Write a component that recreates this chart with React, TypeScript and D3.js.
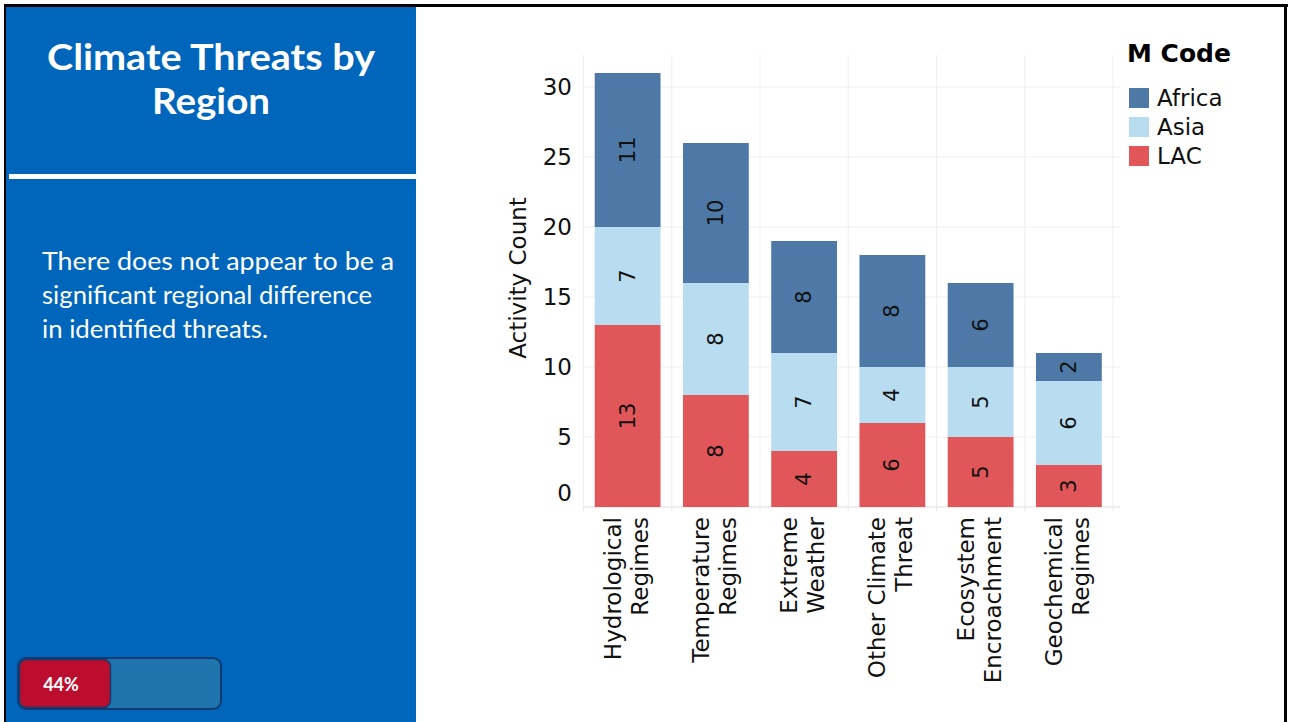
import React from "react";
import * as d3 from "d3";

const categories = [
  ["Hydrological", "Regimes"],
  ["Temperature", "Regimes"],
  ["Extreme", "Weather"],
  ["Other Climate", "Threat"],
  ["Ecosystem", "Encroachment"],
  ["Geochemical", "Regimes"],
];
const seriesNames = ["LAC", "Asia", "Africa"];
const lacValues = [13, 8, 4, 6, 5, 3];
const asiaValues = [7, 8, 7, 4, 5, 6];
const africaValues = [11, 10, 8, 8, 6, 2];
const yTicks = [0, 5, 10, 15, 20, 25, 30];
const legendOrder = ["Africa", "Asia", "LAC"];
const colors: Record<string, string> = {
  Africa: "#4e79a7",
  Asia: "#b8ddf0",
  LAC: "#e15759",
};
const bodyLines = [
  "There does not appear to be a",
  "significant regional difference",
  "in identified threats.",
];
const bodyLengths = [352, 330, 226];

const W = 1292;
const H = 722;
const FONT = "'DejaVu Sans', sans-serif";
const SANS = "Lato, 'Open Sans', sans-serif";

export default function App() {
  const keys = categories.map((c) => c.join(" "));
  const rows = keys.map((k, i) => ({
    key: k,
    LAC: lacValues[i],
    Asia: asiaValues[i],
    Africa: africaValues[i],
  }));
  const stack = d3.stack<any>().keys(seriesNames)(rows);

  const x = d3
    .scaleBand<string>()
    .domain(keys)
    .range([583.5, 1113])
    .paddingInner(0.254)
    .paddingOuter(0.127);
  const y = d3.scaleLinear().domain([0, 31]).range([507, 73]);
  const plotLeft = 583.5;
  const plotRight = 1120;
  const plotTop = 55;
  const plotBottom = 507;
  const step = x.step();
  const boundaries = keys.map((k) => (x(k) as number) - (step - x.bandwidth()) / 2);
  boundaries.push(boundaries[boundaries.length - 1] + step);

  return (
    <svg
      width={W}
      height={H}
      style={{ position: "fixed", left: 0, top: 0, background: "#fff" }}
    >
      {/* left panel */}
      <rect x={6} y={7} width={410} height={H - 7} fill="#0066bb" />
      <rect x={9} y={174} width={407} height={5} fill="#fff" />
      <text
        x={47}
        y={70}
        fill="#fff"
        fontFamily={SANS}
        fontWeight={700}
        fontSize={36}
        textLength={328}
        lengthAdjust="spacingAndGlyphs"
      >
        Climate Threats by
      </text>
      <text
        x={152}
        y={114}
        fill="#fff"
        fontFamily={SANS}
        fontWeight={700}
        fontSize={36}
        textLength={118}
        lengthAdjust="spacingAndGlyphs"
      >
        Region
      </text>
      {bodyLines.map((t, i) => (
        <text
          key={i}
          x={42}
          y={270 + i * 34}
          fill="#fff"
          fontFamily={SANS}
          fontSize={25}
          textLength={bodyLengths[i]}
          lengthAdjust="spacingAndGlyphs"
        >
          {t}
        </text>
      ))}
      {/* progress bar */}
      <rect
        x={18}
        y={658}
        width={203}
        height={51}
        rx={8}
        fill="#1f74ad"
        stroke="#143a72"
        strokeWidth={2}
      />
      <rect
        x={19.5}
        y={659.5}
        width={91}
        height={48}
        rx={7}
        fill="#bb0e2f"
        stroke="#143a72"
        strokeWidth={1.5}
      />
      <text
        x={61}
        y={691}
        textAnchor="middle"
        fill="#fff"
        fontFamily={SANS}
        fontWeight={700}
        fontSize={18}
      >
        44%
      </text>

      {/* frame */}
      <rect x={4} y={4} width={2} height={H} fill="#000" />
      <rect x={4} y={4} width={1284} height={3} fill="#000" />
      <rect x={1284} y={4} width={3} height={H} fill="#000" />

      {/* grid */}
      <g stroke="#efefef" strokeWidth={1}>
        {yTicks.map((t) => (
          <line key={t} x1={plotLeft} x2={plotRight} y1={y(t)} y2={y(t)} />
        ))}
        {boundaries.map((b, i) => (
          <line key={i} x1={b} x2={b} y1={plotTop} y2={plotBottom} />
        ))}
      </g>
      <line
        x1={plotLeft}
        x2={plotRight}
        y1={plotBottom}
        y2={plotBottom}
        stroke="#e6e6e6"
      />
      <g stroke="#e6e6e6">
        {boundaries.map((b, i) => (
          <line key={i} x1={b} x2={b} y1={plotBottom} y2={plotBottom + 4} />
        ))}
      </g>

      {/* bars */}
      {stack.map((s) => (
        <g key={s.key} fill={colors[s.key]}>
          {s.map((d, i) => (
            <rect
              key={i}
              x={x(keys[i])}
              y={y(d[1])}
              width={x.bandwidth()}
              height={y(d[0]) - y(d[1])}
            />
          ))}
        </g>
      ))}
      {stack.map((s) => (
        <g key={"l" + s.key}>
          {s.map((d, i) => {
            const cx = (x(keys[i]) as number) + x.bandwidth() / 2;
            const cy = (y(d[0]) + y(d[1])) / 2;
            return (
              <text
                key={i}
                transform={`translate(${cx},${cy}) rotate(-90)`}
                textAnchor="middle"
                dominantBaseline="central"
                fontFamily={FONT}
                fontSize={21}
                fill="#111"
              >
                {d[1] - d[0]}
              </text>
            );
          })}
        </g>
      ))}

      {/* y axis */}
      {yTicks.map((t) => (
        <text
          key={t}
          x={572}
          y={t === 0 ? y(t) - 14 : y(t)}
          textAnchor="end"
          dominantBaseline="central"
          fontFamily={FONT}
          fontSize={23}
          fill="#111"
        >
          {t}
        </text>
      ))}
      <text
        transform={`translate(518,278) rotate(-90)`}
        textAnchor="middle"
        dominantBaseline="central"
        fontFamily={FONT}
        fontSize={23}
        fill="#111"
      >
        Activity Count
      </text>

      {/* x axis labels */}
      {categories.map((c, i) => {
        const cx = (x(keys[i]) as number) + x.bandwidth() / 2;
        return (
          <g key={i}>
            {c.map((line, j) => (
              <text
                key={j}
                transform={`translate(${cx + (j === 0 ? -15 : 12)},517) rotate(-90)`}
                textAnchor="end"
                dominantBaseline="central"
                fontFamily={FONT}
                fontSize={23}
                fill="#111"
              >
                {line}
              </text>
            ))}
          </g>
        );
      })}

      {/* legend */}
      <text
        x={1127}
        y={62}
        fontFamily={FONT}
        fontWeight={700}
        fontSize={25}
        fill="#000"
      >
        M Code
      </text>
      {legendOrder.map((n, i) => (
        <g key={n}>
          <rect x={1129} y={88 + i * 29} width={20} height={20} fill={colors[n]} />
          <text
            x={1157}
            y={98 + i * 29}
            dominantBaseline="central"
            fontFamily={FONT}
            fontSize={23}
            fill="#111"
          >
            {n}
          </text>
        </g>
      ))}
    </svg>
  );
}
